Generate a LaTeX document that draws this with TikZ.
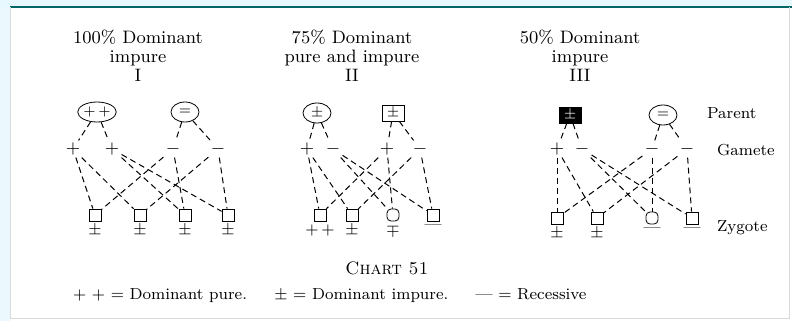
\documentclass[tikz,border=0pt]{standalone}
\usetikzlibrary{shapes.geometric}
\begin{document}
\begin{tikzpicture}[x=0.5pt,y=-0.5pt,
    parent/.style={draw,ellipse,minimum width=14pt,minimum height=10pt,inner sep=0pt,font=\scriptsize},
    parentbox/.style={draw,rectangle,minimum width=11pt,minimum height=8pt,inner sep=0.5pt,font=\scriptsize},
    gam/.style={inner sep=1pt,font=\small},
    zyg/.style={draw,minimum size=6pt,inner sep=0pt},
    zlabel/.style={below,inner sep=1.5pt,font=\footnotesize},
    title/.style={align=center,font=\small},
    link/.style={densely dashed,line width=0.5pt}]
    \useasboundingbox (0,0) rectangle (792,321);
    % frame of the scanned page
    \fill [cyan!8] (0,0) rectangle (10,321);
    \fill [cyan!10] (0,0) rectangle (792,7);
    \draw [teal!80!black, line width=0.8pt] (10,7) -- (792,7);
    \draw [gray!30] (10,7) -- (10,318) -- (789,318) -- (789,7);
    % titles
    \node (tI) [title] at (138,56) {100\% Dominant\\[-1.5pt]impure\\[-1.5pt]I};
    \node (tII) [title] at (352,56) {75\% Dominant\\[-1.5pt]pure and impure\\[-1.5pt]II};
    \node (tIII) [title] at (580,56) {50\% Dominant\\[-1.5pt]impure\\[-1.5pt]III};
    % cross I
    \node (pIa) [parent] at (97,112) {$+\,+$};
    \node (pIb) [parent] at (185,112) {$=$};
    \node (gIa) [gam] at (73,149) {$+$};
    \node (gIb) [gam] at (112,149) {$+$};
    \node (gIc) [gam] at (173,149) {$-$};
    \node (gId) [gam] at (218,149) {$-$};
    \node (zIa) [zyg] at (95,215) {};
    \node (zIb) [zyg] at (140,215) {};
    \node (zIc) [zyg] at (185,215) {};
    \node (zId) [zyg] at (228,215) {};
    \node (lIa) [zlabel] at (zIa.south) {$\pm$};
    \node (lIb) [zlabel] at (zIb.south) {$\pm$};
    \node (lIc) [zlabel] at (zIc.south) {$\pm$};
    \node (lId) [zlabel] at (zId.south) {$\pm$};
    % cross II
    \node (pIIa) [parent] at (317,113) {$\pm$};
    \node (pIIb) [parentbox] at (393,113) {$\pm$};
    \node (gIIa) [gam] at (307,149) {$+$};
    \node (gIIb) [gam] at (333,149) {$-$};
    \node (gIIc) [gam] at (387,149) {$+$};
    \node (gIId) [gam] at (420,149) {$-$};
    \node (zIIa) [zyg] at (320,215) {};
    \node (zIIb) [zyg] at (352,215) {};
    \node (zIIc) [zyg,rounded corners=2pt] at (393,215) {};
    \node (zIId) [zyg] at (433,215) {};
    \node (lIIa) [zlabel] at (zIIa.south) {$+\,+$};
    \node (lIIb) [zlabel] at (zIIb.south) {$\pm$};
    \node (lIIc) [zlabel] at (zIIc.south) {$\mp$};
    \node (lIId) [zlabel] at (zIId.south) {---};
    % cross III
    \node (pIIIa) [parentbox,fill=black,text=white] at (570,115) {$\pm$};
    \node (pIIIb) [parent] at (663,115) {$=$};
    \node (gIIIa) [gam] at (557,149) {$+$};
    \node (gIIIb) [gam] at (582,149) {$-$};
    \node (gIIIc) [gam] at (652,149) {$-$};
    \node (gIIId) [gam] at (687,149) {$-$};
    \node (zIIIa) [zyg] at (557,218) {};
    \node (zIIIb) [zyg] at (597,218) {};
    \node (zIIIc) [zyg,rounded corners=2pt] at (652,218) {};
    \node (zIIId) [zyg] at (692,218) {};
    \node (lIIIa) [zlabel] at (zIIIa.south) {$\pm$};
    \node (lIIIb) [zlabel] at (zIIIb.south) {$\pm$};
    \node (lIIIc) [zlabel] at (zIIIc.south) {---};
    \node (lIIId) [zlabel] at (zIIId.south) {---};
    % lines of descent
    \foreach \c in {I,II,III} {
        \draw [link] (p\c a) -- (g\c a);
        \draw [link] (p\c a) -- (g\c b);
        \draw [link] (p\c b) -- (g\c c);
        \draw [link] (p\c b) -- (g\c d);
        \draw [link] (g\c a) -- (z\c a);
        \draw [link] (g\c a) -- (z\c b);
        \draw [link] (g\c b) -- (z\c c);
        \draw [link] (g\c b) -- (z\c d);
        \draw [link] (g\c c) -- (z\c a);
        \draw [link] (g\c c) -- (z\c c);
        \draw [link] (g\c d) -- (z\c b);
        \draw [link] (g\c d) -- (z\c d);
    }
    % row names
    \node (rP) [right,font=\footnotesize] at (700,113) {Parent};
    \node (rG) [right,font=\footnotesize] at (710,150) {Gamete};
    \node (rZ) [right,font=\footnotesize] at (710,228) {Zygote};
    % caption and key
    \node (cap) [font=\small] at (387,268) {\textsc{Chart 51}};
    \node (key) [right,font=\footnotesize] at (66,296) {$+\ +$ = Dominant pure.\quad\ \ $\pm$ = Dominant impure.\quad\ \ --- = Recessive};
\end{tikzpicture}
\end{document}
